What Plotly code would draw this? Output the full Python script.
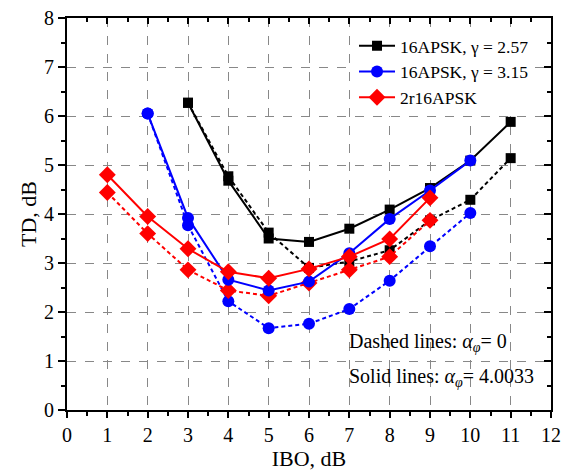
import plotly.graph_objects as go

# IBO values (dB)
ibo_k257 = [3, 4, 5, 6, 7, 8, 9, 10, 11]
ibo_k315 = [2, 3, 4, 5, 6, 7, 8, 9, 10]
ibo_2r = [1, 2, 3, 4, 5, 6, 7, 8, 9]

# TD (dB), solid lines: alpha_phi = 4.0033
td_k257_solid = [6.27, 4.68, 3.50, 3.43, 3.70, 4.09, 4.53, 5.09, 5.88]
td_k315_solid = [6.05, 3.92, 2.66, 2.44, 2.62, 3.20, 3.90, 4.48, 5.09]
td_2r_solid = [4.80, 3.95, 3.29, 2.82, 2.69, 2.88, 3.13, 3.49, 4.33]

# TD (dB), dashed lines: alpha_phi = 0
td_k257_dash = [6.27, 4.77, 3.62, 2.90, 3.03, 3.26, 3.87, 4.29, 5.14]
td_k315_dash = [6.05, 3.77, 2.22, 1.67, 1.76, 2.06, 2.64, 3.34, 4.02]
td_2r_dash = [4.44, 3.60, 2.86, 2.44, 2.33, 2.59, 2.86, 3.13, 3.87]

names = ["16APSK, \u03b3 = 2.57", "16APSK, \u03b3 = 3.15", "2r16APSK"]
x_ticks = list(range(0, 13))
y_ticks = list(range(0, 9))

FONT = "Liberation Serif"

series = [
    (ibo_k257, td_k257_solid, td_k257_dash, "#000000", "square", 10),
    (ibo_k315, td_k315_solid, td_k315_dash, "#0000ff", "circle", 12),
    (ibo_2r, td_2r_solid, td_2r_dash, "#ff0000", "diamond", 13),
]

fig = go.Figure()

for (x, ys, yd, col, sym, sz), nm in zip(series, names):
    fig.add_trace(go.Scatter(
        x=x, y=yd, mode="lines+markers", showlegend=False,
        line=dict(color=col, width=2, dash="4px,3px"),
        marker=dict(symbol=sym, size=sz, color=col),
    ))
for (x, ys, yd, col, sym, sz), nm in zip(series, names):
    fig.add_trace(go.Scatter(
        x=x, y=ys, mode="lines+markers", name=nm,
        line=dict(color=col, width=2),
        marker=dict(symbol=sym, size=sz, color=col),
    ))

# empty trace that brings up the mirrored top/right axes
fig.add_trace(go.Scatter(x=[], y=[], xaxis="x2", yaxis="y2",
                         showlegend=False, hoverinfo="skip"))

axis_common = dict(
    showline=True, linecolor="black", linewidth=2,
    tickcolor="black", tickwidth=1.5,
    zeroline=False, automargin=False,
)

fig.update_layout(
    width=566, height=471,
    margin=dict(l=67, r=15, t=18, b=61),
    plot_bgcolor="white", paper_bgcolor="white",
    font=dict(family=FONT, size=20, color="black"),
    xaxis=dict(
        range=[0, 12], tickvals=x_ticks, ticks="outside", ticklen=6,
        minor=dict(ticks="outside", ticklen=4, dtick=0.5, tickcolor="black", tickwidth=1.5, showgrid=False),
        showgrid=True, gridcolor="#888888", gridwidth=1, griddash="dash",
        title=dict(text="IBO, dB", font=dict(size=22), standoff=7),
        **axis_common,
    ),
    yaxis=dict(
        range=[0, 8], tickvals=y_ticks, ticks="outside", ticklen=7,
        minor=dict(ticks="outside", ticklen=4, dtick=0.5, tickcolor="black", tickwidth=1.5, showgrid=False),
        showgrid=True, gridcolor="#888888", gridwidth=1, griddash="dash",
        title=dict(text="TD, dB", font=dict(size=22), standoff=1),
        **axis_common,
    ),
    xaxis2=dict(
        range=[0, 12], overlaying="x", side="top", anchor="y2",
        tickvals=x_ticks, ticks="inside", ticklen=6, showticklabels=False,
        minor=dict(ticks="inside", ticklen=4, dtick=0.5, tickcolor="black", tickwidth=1.5),
        showgrid=False, **axis_common,
    ),
    yaxis2=dict(
        range=[0, 8], overlaying="y", side="right", anchor="x2",
        tickvals=y_ticks, ticks="inside", ticklen=7, showticklabels=False,
        minor=dict(ticks="inside", ticklen=4, dtick=0.5, tickcolor="black", tickwidth=1.5),
        showgrid=False, **axis_common,
    ),
    legend=dict(
        x=0.593, y=0.975, xanchor="left", yanchor="top",
        bgcolor="white", borderwidth=0, itemwidth=36,
        font=dict(size=17.5), tracegroupgap=0,
    ),
    shapes=[dict(
        type="rect", xref="paper", yref="paper", layer="between",
        x0=0.574, x1=0.975, y0=0.03, y1=0.215,
        fillcolor="white", line=dict(width=0),
    )],
    annotations=[
        dict(text="Dashed lines: <i>\u03b1</i><sub><i>\u03c6</i></sub>= 0",
             xref="paper", yref="paper", x=0.579, y=0.171,
             xanchor="left", yanchor="middle", showarrow=False,
             font=dict(size=20)),
        dict(text="Solid lines: <i>\u03b1</i><sub><i>\u03c6</i></sub>= 4.0033",
             xref="paper", yref="paper", x=0.579, y=0.082,
             xanchor="left", yanchor="middle", showarrow=False,
             font=dict(size=20)),
    ],
)

fig.write_html("out.html")
